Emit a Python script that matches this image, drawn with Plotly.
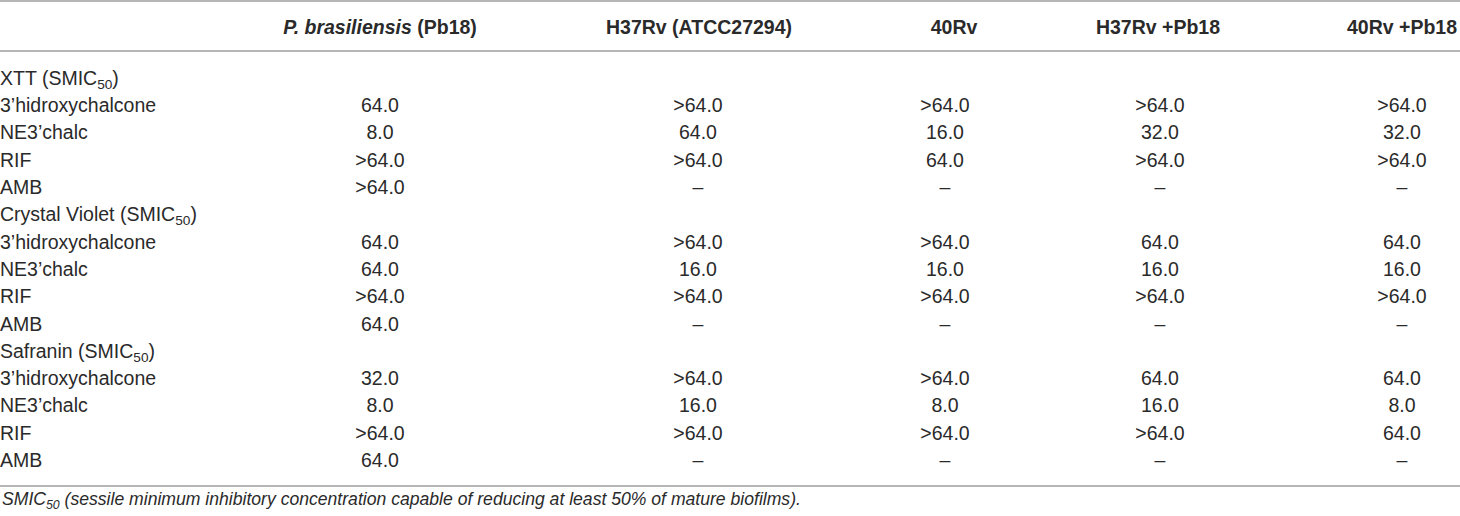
import plotly.graph_objects as go

# table content
columns = ["<i>P. brasiliensis</i> (Pb18)", "H37Rv (ATCC27294)", "40Rv",
           "H37Rv +Pb18", "40Rv +Pb18"]
row_labels = [
    "XTT (SMIC<sub>50</sub>)", "3\u2019hidroxychalcone", "NE3\u2019chalc", "RIF", "AMB",
    "Crystal Violet (SMIC<sub>50</sub>)", "3\u2019hidroxychalcone", "NE3\u2019chalc", "RIF", "AMB",
    "Safranin (SMIC<sub>50</sub>)", "3\u2019hidroxychalcone", "NE3\u2019chalc", "RIF", "AMB",
]
pb18 = [None, "64.0", "8.0", ">64.0", ">64.0",
        None, "64.0", "64.0", ">64.0", "64.0",
        None, "32.0", "8.0", ">64.0", "64.0"]
h37rv = [None, ">64.0", "64.0", ">64.0", "\u2013",
         None, ">64.0", "16.0", ">64.0", "\u2013",
         None, ">64.0", "16.0", ">64.0", "\u2013"]
rv40 = [None, ">64.0", "16.0", "64.0", "\u2013",
        None, ">64.0", "16.0", ">64.0", "\u2013",
        None, ">64.0", "8.0", ">64.0", "\u2013"]
h37rv_pb18 = [None, ">64.0", "32.0", ">64.0", "\u2013",
              None, "64.0", "16.0", ">64.0", "\u2013",
              None, "64.0", "16.0", ">64.0", "\u2013"]
rv40_pb18 = [None, ">64.0", "32.0", ">64.0", "\u2013",
             None, "64.0", "16.0", ">64.0", "\u2013",
             None, "64.0", "8.0", "64.0", "\u2013"]
footnote = ("<i>SMIC<sub>50</sub> (sessile minimum inhibitory concentration capable "
            "of reducing at least 50% of mature biofilms).</i>")

# layout (pixel units on the axes)
W, H = 1460, 516
col_x = [380, 698, 945, 1160, 1402]
header_x = [380, 699, 954, 1158, 1402]
label_x = 0
header_y = 29
row0_y = 80
row_h = 27.3
rules_y = [1, 51, 486]
footnote_y = 500

FONT = "Liberation Sans, Arial, sans-serif"
TXT = "#2a2a2a"
RULE = "#9e9e9e"
fs = 19.5

value_cols = [pb18, h37rv, rv40, h37rv_pb18, rv40_pb18]
row_y = [row0_y + i * row_h for i in range(len(row_labels))]

traces = []
# row labels
traces.append(go.Scatter(
    x=[label_x] * len(row_labels), y=row_y, text=row_labels,
    mode="text", textposition="middle right",
    textfont=dict(family=FONT, size=fs, color=TXT),
    hoverinfo="skip"
))
# header
traces.append(go.Scatter(
    x=header_x, y=[header_y] * len(columns), text=["<b>%s</b>" % c for c in columns],
    mode="text", textposition="middle center",
    textfont=dict(family=FONT, size=fs, color=TXT),
    hoverinfo="skip"
))
# values
for cx, vals in zip(col_x, value_cols):
    ys = [y for y, v in zip(row_y, vals) if v is not None]
    ts = [v for v in vals if v is not None]
    traces.append(go.Scatter(
        x=[cx] * len(ts), y=ys, text=ts,
        mode="text", textposition="middle center",
        textfont=dict(family=FONT, size=fs, color=TXT),
        hoverinfo="skip"
    ))

shapes = [dict(type="line", xref="paper", yref="y", x0=0, x1=1, y0=y, y1=y,
               line=dict(color=RULE, width=1.6)) for y in rules_y]

layout = go.Layout(
    width=W, height=H,
    margin=dict(l=0, r=0, t=0, b=0),
    paper_bgcolor="white", plot_bgcolor="white",
    xaxis=dict(range=[0, W], visible=False, fixedrange=True),
    yaxis=dict(range=[H, 0], visible=False, fixedrange=True),
    shapes=shapes,
    annotations=[dict(x=label_x, y=footnote_y, xref="x", yref="y", text=footnote,
                      showarrow=False, xanchor="left", yanchor="middle",
                      font=dict(family=FONT, size=17.6, color=TXT))],
    showlegend=False
)

fig = go.Figure(data=traces, layout=layout)
# drop the page's default body margin so the table sits at the window's corner
fig.write_html("out.html", config={"displayModeBar": False},
               post_script="document.body.style.margin='0';")
